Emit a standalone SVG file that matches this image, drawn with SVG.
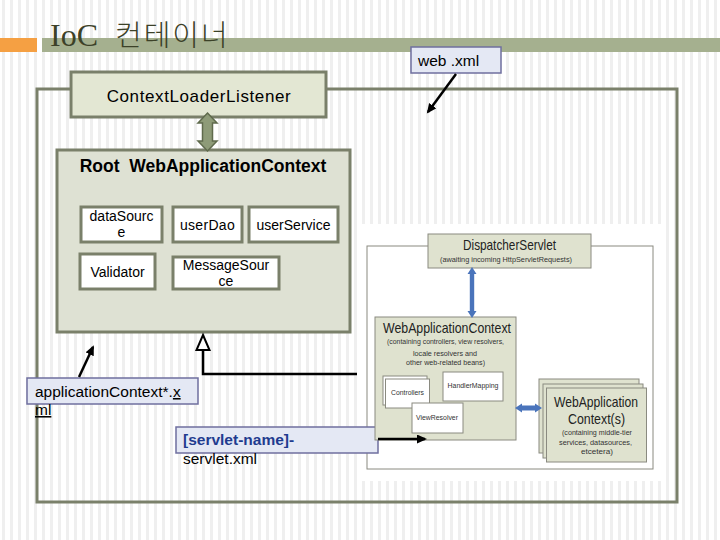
<svg xmlns="http://www.w3.org/2000/svg" width="720" height="540" viewBox="0 0 720 540">
<defs>
<pattern id="stripes" width="8" height="8" patternUnits="userSpaceOnUse"><rect width="8" height="8" fill="#ffffff"/><rect x="2" width="3" height="8" fill="#efefef"/></pattern>
<marker id="ah" markerUnits="userSpaceOnUse" markerWidth="12" markerHeight="12" refX="8" refY="4.5" orient="auto"><path d="M0,0 L10,4.5 L0,9 z" fill="#000"/></marker>
</defs>
<style>
.sans{font-family:"Liberation Sans",Arial,sans-serif}
.olive{stroke:#7a806a;stroke-width:3}
.bean{fill:#ffffff;stroke:#7a806a;stroke-width:3}
.note{fill:#e4e8f4;stroke:#6f6f9f;stroke-width:1.5}
.img{fill:#dfe2cf;stroke:#8a8a80;stroke-width:1}
.imgw{fill:#ffffff;stroke:#8a8a80;stroke-width:1}
.t15{font-size:15.5px;fill:#000}
.t14{font-size:14px;fill:#000}
.small{font-size:7.5px;fill:#333}
.conn{stroke:#000;stroke-width:2.5;fill:none}
</style>
<rect width="720" height="540" fill="url(#stripes)"/>

<g id="title">
<rect x="0" y="38" width="37" height="14" fill="#f5a043"/>
<rect x="42" y="38" width="678" height="14" fill="#a5b08f"/>
<text x="50" y="46" font-family="'Liberation Serif','Noto Sans CJK KR',serif" font-size="32" fill="#3c4128">IoC <tspan x="115" font-size="29" font-family="'Noto Sans CJK KR',sans-serif" font-weight="300" letter-spacing="2">컨테이너</tspan></text>
</g>

<g id="outer-frame">
<rect x="37" y="89" width="640" height="413" fill="none" stroke="#7a806a" stroke-width="3"/>
</g>

<g id="image-area">
<rect x="357" y="224" width="309" height="257" fill="#ffffff"/>
<rect x="367" y="246" width="286" height="223" fill="none" stroke="#8a8a80" stroke-width="1"/>
</g>

<g id="web-xml">
<rect class="note" x="411" y="47" width="90" height="26"/>
<text class="sans t15" x="418" y="66">web .xml</text>
</g>

<g id="context-loader-listener">
<rect class="olive" x="71" y="72" width="255" height="45" fill="#e3e7d3"/>
<text class="sans" x="199" y="102" font-size="17" text-anchor="middle" letter-spacing="0.6">ContextLoaderListener</text>
</g>

<g id="root-context">
<rect class="olive" x="57" y="150" width="293" height="182" fill="#dee1d3"/>
<text class="sans" x="203" y="172" font-size="17.5" font-weight="bold" text-anchor="middle" xml:space="preserve">Root  WebApplicationContext</text>
</g>

<g id="dataSource">
<rect class="bean" x="81" y="207" width="81" height="35"/>
<text class="sans t14" x="121.5" y="221" text-anchor="middle">dataSourc</text>
<text class="sans t14" x="121.5" y="236.5" text-anchor="middle">e</text>
</g>
<g id="userDao">
<rect class="bean" x="173" y="207" width="69" height="35"/>
<text class="sans t14" x="207.5" y="229.5" text-anchor="middle" letter-spacing="0.3">userDao</text>
</g>
<g id="userService">
<rect class="bean" x="249" y="207" width="89" height="35"/>
<text class="sans t14" x="293.5" y="229.5" text-anchor="middle">userService</text>
</g>
<g id="validator">
<rect class="bean" x="80" y="254" width="75" height="35"/>
<text class="sans t14" x="117.5" y="276.5" text-anchor="middle">Validator</text>
</g>
<g id="messageSource">
<rect class="bean" x="173" y="257" width="106" height="32"/>
<text class="sans t14" x="226" y="270" text-anchor="middle">MessageSour</text>
<text class="sans t14" x="226" y="285.5" text-anchor="middle">ce</text>
</g>

<g id="applicationContext-xml">
<rect class="note" x="27" y="378" width="171" height="26"/>
<text class="sans t15" x="35" y="397">applicationContext*.<tspan text-decoration="underline">x</tspan></text>
<text class="sans t15" x="35" y="415" text-decoration="underline">ml</text>
</g>

<g id="servlet-xml">
<rect class="note" x="176" y="427" width="202" height="26"/>
<text class="sans" x="183" y="445" font-size="15.5" font-weight="bold" fill="#1f3b8f">[servlet-name]-</text>
<text class="sans t15" x="183" y="463.5">servlet.xml</text>
</g>

<g id="dispatcher-servlet">
<rect class="img" x="428" y="234" width="163" height="34"/>
<text class="sans" x="509.5" y="250" font-size="15" fill="#222" text-anchor="middle" textLength="93" lengthAdjust="spacingAndGlyphs">DispatcherServlet</text>
<text class="sans small" x="506" y="262" text-anchor="middle" textLength="132" lengthAdjust="spacingAndGlyphs">(awaiting incoming HttpServletRequests)</text>
</g>

<g id="web-application-context">
<rect class="img" x="375" y="317" width="141" height="123"/>
<text class="sans" x="447" y="333" font-size="15" fill="#222" text-anchor="middle" textLength="128" lengthAdjust="spacingAndGlyphs">WebApplicationContext</text>
<text class="sans small" x="445.5" y="344" text-anchor="middle" textLength="117" lengthAdjust="spacingAndGlyphs">(containing controllers, view resolvers,</text>
<text class="sans small" x="445" y="355.5" text-anchor="middle" textLength="64" lengthAdjust="spacingAndGlyphs">locale resolvers and</text>
<text class="sans small" x="445.5" y="365" text-anchor="middle" textLength="79" lengthAdjust="spacingAndGlyphs">other web-related beans)</text>
</g>
<g id="controllers">
<rect class="imgw" x="383" y="376" width="44" height="29"/>
<rect class="imgw" x="385.5" y="379" width="44" height="29"/>
<text class="sans small" x="407.5" y="395" text-anchor="middle" textLength="33" lengthAdjust="spacingAndGlyphs">Controllers</text>
</g>
<g id="handler-mapping">
<rect class="imgw" x="443" y="372" width="60" height="29"/>
<text class="sans small" x="473" y="388" text-anchor="middle" textLength="51" lengthAdjust="spacingAndGlyphs">HandlerMapping</text>
</g>
<g id="view-resolver">
<rect class="imgw" x="412" y="403" width="51" height="30"/>
<text class="sans small" x="437" y="420" text-anchor="middle" textLength="42" lengthAdjust="spacingAndGlyphs">ViewResolver</text>
</g>

<g id="web-application-contexts">
<rect class="img" x="539" y="379" width="100" height="74"/>
<rect class="img" x="543" y="384" width="100" height="74"/>
<rect class="img" x="546.5" y="388" width="100" height="74"/>
<text class="sans" x="596" y="407" font-size="15" fill="#222" text-anchor="middle" textLength="84" lengthAdjust="spacingAndGlyphs">WebApplication</text>
<text class="sans" x="596.5" y="424" font-size="15" fill="#222" text-anchor="middle" textLength="57" lengthAdjust="spacingAndGlyphs">Context(s)</text>
<text class="sans small" x="597" y="434.5" text-anchor="middle" textLength="70" lengthAdjust="spacingAndGlyphs">(containing middle-tier</text>
<text class="sans small" x="595.5" y="444.5" text-anchor="middle" textLength="73" lengthAdjust="spacingAndGlyphs">services, datasources,</text>
<text class="sans small" x="597" y="454" text-anchor="middle" textLength="32" lengthAdjust="spacingAndGlyphs">etcetera)</text>
</g>

<g id="connectors">
<polygon points="207.5,113 217,123 212.5,123 212.5,141 217,141 207.5,151 198,141 202.5,141 202.5,123 198,123" fill="#8e9b78" stroke="#5f6a4c" stroke-width="1.5"/>
<line class="conn" x1="456" y1="74" x2="428" y2="112" marker-end="url(#ah)"/>
<line class="conn" x1="79" y1="377" x2="93" y2="347" marker-end="url(#ah)"/>
<line class="conn" x1="378" y1="439" x2="425" y2="439" marker-end="url(#ah)"/>
<polyline class="conn" points="203,350 203,374 357,374"/>
<polygon points="203,335 209.5,350 196.5,350" fill="#ffffff" stroke="#000" stroke-width="2"/>
<polygon points="472,267 476.5,274 474.2,274 474.2,311 476.5,311 472,318 467.5,311 469.8,311 469.8,274 467.5,274" fill="#4a74bb"/>
<polygon points="515,408 522,403.5 522,405.5 535,405.5 535,403.5 542,408 535,412.5 535,410.5 522,410.5 522,412.5" fill="#4a74bb"/>
</g>
</svg>
